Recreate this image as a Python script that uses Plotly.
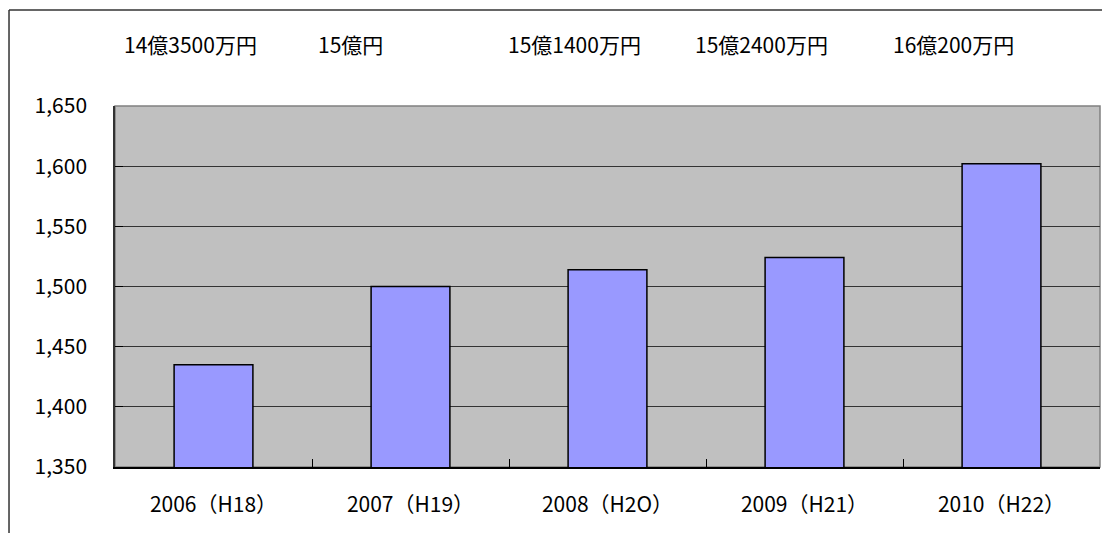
import plotly.graph_objects as go

# Data
years = ["2006（H18）", "2007（H19）", "2008（H2O）", "2009（H21）", "2010（H22）"]
amounts = [1435, 1500, 1514, 1524, 1602]  # 百万円
amount_labels = ["14億3500万円", "15億円", "15億1400万円", "15億2400万円", "16億200万円"]
label_pos = [0.077, 0.239, 0.467, 0.656, 0.851]  # paper x of the text boxes

FONT = "Noto Sans CJK JP"

fig = go.Figure()
fig.add_trace(go.Bar(x=years, y=amounts, width=0.4,
                     marker=dict(color="#9999FF", line=dict(color="#000000", width=1.5)),
                     showlegend=False))

# Amount text boxes above the plot area
for txt, px in zip(amount_labels, label_pos):
    fig.add_annotation(text=txt, x=px, y=1.172, xref="paper", yref="paper",
                       xanchor="center", yanchor="middle", showarrow=False,
                       font=dict(family=FONT, size=21, color="#000000"))

# Outer chart frame (clipped on right and bottom like the original)
fig.add_shape(type="line", xref="paper", yref="paper", x0=-0.1076, x1=-0.1076, y0=-0.4, y1=1.266,
              line=dict(color="#333333", width=1.5))
fig.add_shape(type="line", xref="paper", yref="paper", x0=-0.1076, x1=1.2, y0=1.266, y1=1.266,
              line=dict(color="#333333", width=1.5))
# Plot area border
fig.add_shape(type="rect", xref="paper", yref="paper", x0=0, x1=1, y0=0, y1=1,
              line=dict(color="#808080", width=1.5), layer="below")

# page body has an 8px margin, so the figure is sized/offset to compensate
fig.update_layout(width=1102, height=525,
                  margin=dict(l=107, r=10, t=98, b=66),
                  paper_bgcolor="white", plot_bgcolor="#C0C0C0",
                  font=dict(family=FONT, size=21, color="#000000"),
                  bargap=0.6)
fig.update_xaxes(showgrid=False, ticks="inside", tickson="boundaries", ticklen=8,
                 tickcolor="#000000", showline=True, linecolor="#000000", linewidth=1.5,
                 ticklabelstandoff=18)
fig.update_yaxes(range=[1350, 1650], dtick=50, tickformat=",d", showgrid=True,
                 gridcolor="#333333", gridwidth=1, ticks="inside", ticklen=8,
                 tickcolor="#000000", showline=True, linecolor="#333333", linewidth=1.5,
                 zeroline=False, ticklabelstandoff=22)

fig.write_html("out.html")
